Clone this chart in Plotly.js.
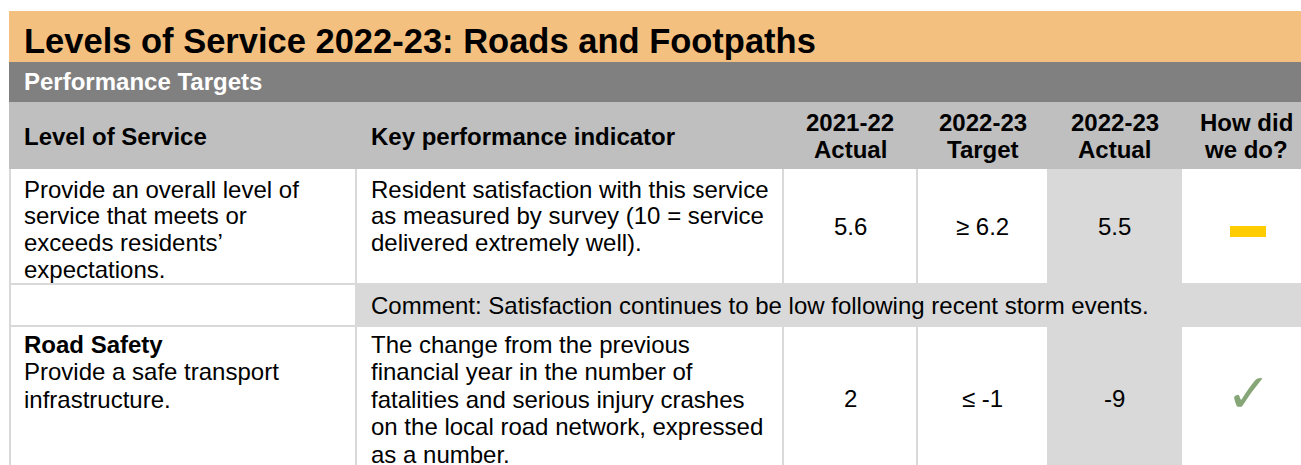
<!DOCTYPE html>
<html>
<head>
<meta charset="utf-8">
<script src="https://cdn.plot.ly/plotly-3.0.1.min.js"></script>
<style>html,body{margin:0;padding:0;background:#fff;}#chart{width:1301px;height:465px;}</style>
</head>
<body>
<div id="chart"></div>
<script>
// ---------- DATA ----------
const pageTitle = "Levels of Service 2022-23: Roads and Footpaths";
const sectionTitle = "Performance Targets";
const headers = ["Level of Service", "Key performance indicator", "2021-22\nActual", "2022-23\nTarget", "2022-23\nActual", "How did\nwe do?"];
const serviceTitles = ["", "Road Safety"];
const serviceTexts = [
  "Provide an overall level of\nservice that meets or\nexceeds residents’\nexpectations.",
  "Provide a safe transport\ninfrastructure."
];
const kpiTexts = [
  "Resident satisfaction with this service\nas measured by survey (10 = service\ndelivered extremely well).",
  "The change from the previous\nfinancial year in the number of\nfatalities and serious injury crashes\non the local road network, expressed\nas a number."
];
const actual2122 = ["5.6", "2"];
const target2223 = ["≥ 6.2", "≤ -1"];
const actual2223 = ["5.5", "-9"];
const results = ["partial", "achieved"];
const comments = ["Comment: Satisfaction continues to be low following recent storm events.", ""];

// ---------- LAYOUT GEOMETRY ----------
const W = 1301, H = 465;
const colX = [9, 356, 783, 917, 1048, 1181, 1315];
const band1 = [11, 62], band2 = [62, 102], headRow = [102, 169];
const dataRows = [[169, 284], [326, 470]];
const commentRows = [[284, 326], null];
const FONT = "Arial, 'Liberation Sans', Helvetica, sans-serif";
const ORANGE = "#F4C080", DARK = "#808080", HEAD = "#BFBFBF", LIGHT = "#D9D9D9", LINE = "#D9D9D9";
const PAD = 14;
const LEFT = 23;

const shapes = [];
const ann = [];
function rect(x0, y0, x1, y1, color) {
  shapes.push({type: "rect", xref: "x", yref: "y", x0, y0, x1, y1, fillcolor: color, line: {width: 0}, layer: "below"});
}
function line(x0, y0, x1, y1, color, w) {
  shapes.push({type: "line", xref: "x", yref: "y", x0, y0, x1, y1, line: {color, width: w || 2}});
}
// text placed by baseline
function txt(s, x, baseline, size, opts) {
  opts = opts || {};
  ann.push({
    xref: "x", yref: "y", x: x, y: baseline - 0.35 * size,
    xanchor: opts.anchor || "left", yanchor: "middle",
    text: opts.bold ? "<b>" + s + "</b>" : s, showarrow: false,
    font: {family: opts.family || FONT, size: size, color: opts.color || "#000"},
    borderpad: 0
  });
}
function lines(s, x, firstBaseline, spacing, size, opts) {
  s.split("\n").forEach((l, i) => txt(l, x, firstBaseline + i * spacing, size, opts));
}

// bands
rect(colX[0], band1[0], W, band1[1], ORANGE);
rect(colX[0], band2[0], W, band2[1], DARK);
rect(colX[0], headRow[0], W, headRow[1], HEAD);
txt(pageTitle, LEFT, 53, 34.5, {bold: true});
txt(sectionTitle, LEFT, 89.5, 24, {bold: true, color: "#fff"});

// header
txt(headers[0], LEFT, 144.5, 24, {bold: true});
txt(headers[1], colX[1] + PAD, 144.5, 24, {bold: true});
for (let c = 2; c < 6; c++) {
  const cx = (colX[c] + colX[c + 1]) / 2 - (c === 5 ? 2 : 0);
  lines(headers[c], cx, 131, 26.7, 24, {bold: true, anchor: "center"});
}

// data rows
const rowSpacing = [26.7, 27.5];
const rowFirstBase = [197.5, 352.5];
const numBase = [235, 407];
for (let r = 0; r < dataRows.length; r++) {
  const [y0, y1] = dataRows[r];
  rect(colX[4], y0, colX[5], y1, LIGHT);
  const sp = rowSpacing[r];
  let b = rowFirstBase[r];
  if (serviceTitles[r]) { txt(serviceTitles[r], LEFT, b, 24, {bold: true}); b += sp; }
  lines(serviceTexts[r], LEFT, b, sp, 24);
  lines(kpiTexts[r], colX[1] + PAD, rowFirstBase[r], sp, 24);
  const vals = [actual2122[r], target2223[r], actual2223[r]];
  vals.forEach((v, i) => txt(v, (colX[2 + i] + colX[3 + i]) / 2, numBase[r], 24, {anchor: "center"}));
  const cx = (colX[5] + colX[6]) / 2;
  if (results[r] === "partial") {
    shapes.push({type: "rect", xref: "x", yref: "y", x0: cx - 18, x1: cx + 18, y0: numBase[r] - 9, y1: numBase[r] + 2, fillcolor: "#FFCC00", line: {width: 0}});
  } else {
    ann.push({xref: "x", yref: "y", x: cx, y: numBase[r] - 14, xanchor: "center", yanchor: "middle",
      text: "✓", showarrow: false, font: {family: "DejaVu Sans", size: 54, color: "#87A677"}});
  }
  // borders
  for (let c = 1; c < 6; c++) line(colX[c], y0, colX[c], y1, LINE, 2);
  line(colX[0] + 1, y0, colX[0] + 1, y1, LINE, 2);
  if (commentRows[r]) {
    const [cy0, cy1] = commentRows[r];
    rect(colX[1] + 1, cy0, W, cy1, LIGHT);
    line(colX[0], cy0, W, cy0, LINE, 2);
    line(colX[0], cy1, W, cy1, LINE, 2);
    line(colX[0] + 1, cy0, colX[0] + 1, cy1, LINE, 2);
    line(colX[1], cy0, colX[1], cy1, LINE, 2);
    txt(comments[r], colX[1] + PAD, 314, 24);
  }
}

Plotly.newPlot("chart", [{type: "scatter", x: [], y: [], hoverinfo: "skip"}], {
  width: W, height: H,
  margin: {l: 0, r: 0, t: 0, b: 0, pad: 0},
  paper_bgcolor: "#fff", plot_bgcolor: "#fff",
  xaxis: {range: [0, W], visible: false, fixedrange: true},
  yaxis: {range: [H, 0], visible: false, fixedrange: true},
  showlegend: false,
  shapes: shapes,
  annotations: ann
}, {staticPlot: true, displayModeBar: false});
</script>
</body>
</html>
